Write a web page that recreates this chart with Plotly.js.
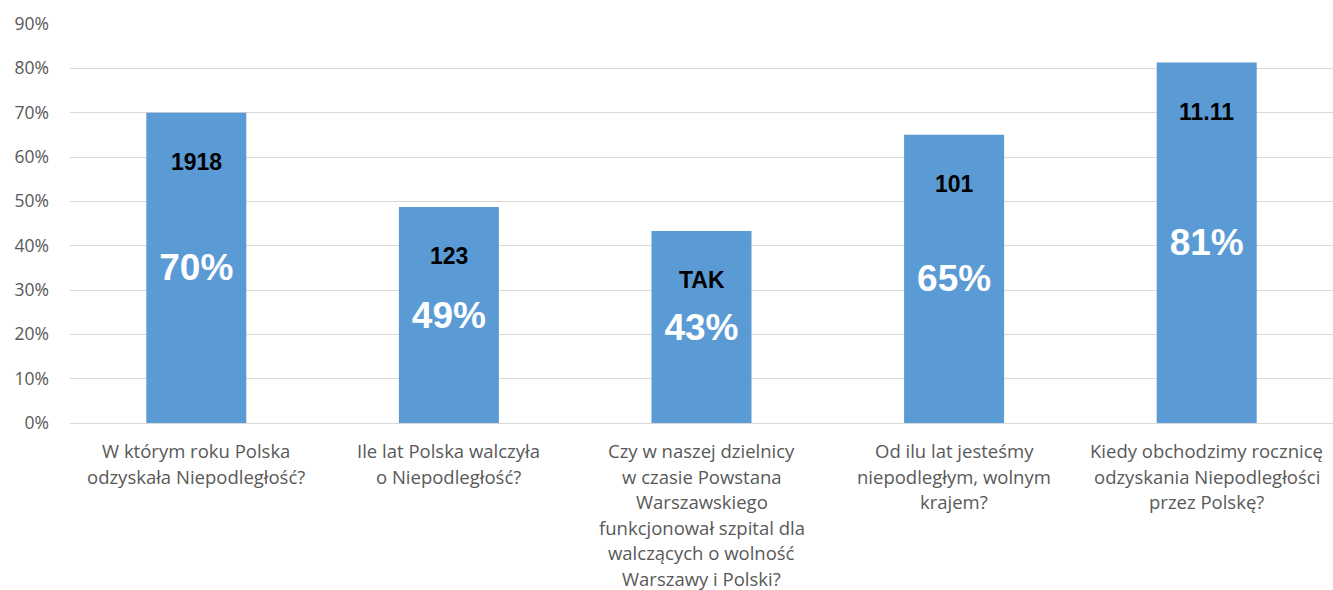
<!DOCTYPE html>
<html><head><meta charset="utf-8">
<script src="https://cdn.plot.ly/plotly-3.0.1.min.js"></script>
<style>html,body{margin:0;padding:0;background:#fff}#c{width:1333px;height:590px}</style>
</head><body><div id="c"></div>
<script>
const categories = [
  "W którym roku Polska\nodzyskała Niepodległość?",
  "Ile lat Polska walczyła\no Niepodległość?",
  "Czy w naszej dzielnicy\nw czasie Powstana\nWarszawskiego\nfunkcjonował szpital dla\nwalczących o wolność\nWarszawy i Polski?",
  "Od ilu lat jesteśmy\nniepodległym, wolnym\nkrajem?",
  "Kiedy obchodzimy rocznicę\nodzyskania Niepodległości\nprzez Polskę?"
];
const values = [0.70, 0.487, 0.433, 0.65, 0.813];
const answers = ["1918", "123", "TAK", "101", "11.11"];
const xs = categories.map((c, i) => i);

const font = "Liberation Sans, Arial, sans-serif";
const lightFont = "Open Sans, Liberation Sans, sans-serif";
const annotations = [];
answers.forEach((a, i) => {
  annotations.push({x: xs[i], y: values[i], xref: 'x', yref: 'y', text: '<b>' + a + '</b>',
    showarrow: false, yshift: -49, font: {family: font, size: 23, color: '#000'}});
});
categories.forEach((c, i) => {
  c.split("\n").forEach((line, j) => {
    annotations.push({x: xs[i], y: 0, xref: 'x', yref: 'paper', text: line, showarrow: false,
      yanchor: 'top', yshift: -13 - 25.5 * j, font: {family: lightFont, size: 18.5, color: '#595959'}});
  });
});

Plotly.newPlot('c', [{
  type: 'bar', x: xs, y: values,
  marker: {color: '#5B9BD5'},
  text: values.map(v => '<b>' + Math.round(v * 100) + '%</b>'),
  textposition: 'inside', insidetextanchor: 'middle', constraintext: 'none',
  textfont: {family: font, size: 37, color: '#fff'},
  hoverinfo: 'skip'
}], {
  width: 1333, height: 590,
  margin: {l: 70, r: 0, t: 24, b: 167},
  paper_bgcolor: '#fff', plot_bgcolor: '#fff',
  bargap: 0.604, showlegend: false,
  xaxis: {range: [-0.5, 4.5], showticklabels: false, showgrid: false, zeroline: false, showline: false, ticks: ''},
  yaxis: {range: [0, 0.9], dtick: 0.1, tickformat: '.0%', gridcolor: '#d9d9d9', gridwidth: 1,
    zeroline: true, zerolinecolor: '#d9d9d9', zerolinewidth: 1, showline: false,
    ticklabelstandoff: 20, tickfont: {family: lightFont, size: 17.5, color: '#595959'}},
  annotations: annotations
}, {displayModeBar: false, staticPlot: true});
</script></body></html>
